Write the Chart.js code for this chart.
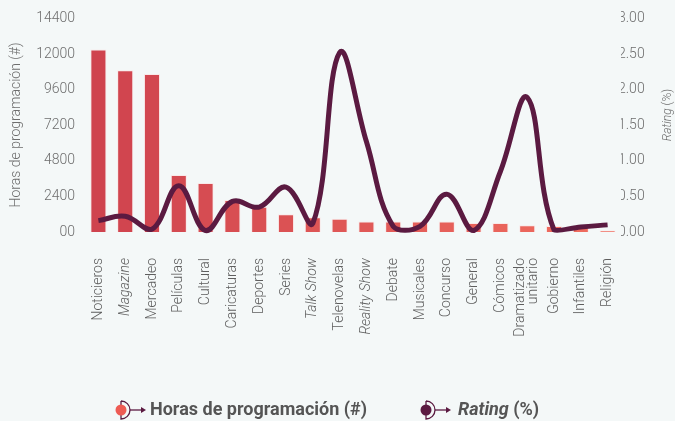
<!DOCTYPE html>
<html lang="es">
<head>
<meta charset="UTF-8">
<title>Horas de programación y rating por género</title>
<script src="https://cdn.jsdelivr.net/npm/chart.js"></script>
<style>
  body { margin: 0; background: #f4f8f8; }
  #wrap { width: 675px; height: 421px; }
</style>
</head>
<body>
<div id="wrap"><canvas id="generosChart" width="675" height="421"></canvas></div>
<script>
// Géneros de televisión
const generos = ['Noticieros', 'Magazine', 'Mercadeo', 'Películas', 'Cultural', 'Caricaturas',
  'Deportes', 'Series', 'Talk Show', 'Telenovelas', 'Reality Show', 'Debate', 'Musicales',
  'Concurso', 'General', 'Cómicos', ['Dramatizado', 'unitario'], 'Gobierno', 'Infantiles', 'Religión'];
// nombres en inglés van en cursiva
const enCursiva = ['Magazine', 'Talk Show', 'Reality Show'];

const horas = [12300, 10900, 10650, 3850, 3300, 2150, 1700, 1200, 1000, 900,
  700, 700, 700, 700, 600, 600, 450, 400, 320, 100];
const rating = [0.16, 0.22, 0.04, 0.65, 0.02, 0.43, 0.35, 0.63, 0.12, 2.52,
  1.27, 0.08, 0.08, 0.53, 0.02, 0.85, 1.89, 0.03, 0.07, 0.10];

const ticksHoras = [0, 2400, 4800, 7200, 9600, 12000, 14400];
const ticksRating = [0, 0.5, 1, 1.5, 2, 2.5, 3];

const colorLinea = '#5b1a41';
const grisTexto = '#6e6e6e';
const fuente = 'Roboto';
const altoLinea = 13;

// degradado de rojo oscuro a coral a lo largo de las barras
function mezcla(a, b, t) {
  const pa = a.match(/\w\w/g).map(h => parseInt(h, 16));
  const pb = b.match(/\w\w/g).map(h => parseInt(h, 16));
  return 'rgb(' + pa.map((v, i) => Math.round(v + (pb[i] - v) * t)).join(',') + ')';
}
const coloresBarras = horas.map((_, i) => mezcla('cf434e', 'f06d5f', i / (horas.length - 1)));

// icono de la leyenda: punto, media luna y flecha
function iconoLeyenda(ctx, x, y, relleno) {
  ctx.save();
  ctx.strokeStyle = colorLinea;
  ctx.lineWidth = 1.3;
  ctx.beginPath();
  ctx.moveTo(x, y - 9);
  ctx.arc(x, y, 9, -Math.PI / 2, Math.PI / 2);
  ctx.lineTo(x, y - 9);
  ctx.stroke();
  ctx.beginPath();
  ctx.moveTo(x + 9, y);
  ctx.lineTo(x + 22, y);
  ctx.stroke();
  ctx.fillStyle = colorLinea;
  ctx.beginPath();
  ctx.moveTo(x + 25, y);
  ctx.lineTo(x + 20, y - 3);
  ctx.lineTo(x + 20, y + 3);
  ctx.closePath();
  ctx.fill();
  ctx.fillStyle = relleno;
  ctx.beginPath();
  ctx.arc(x, y, 5.5, 0, Math.PI * 2);
  ctx.fill();
  ctx.restore();
}

// títulos de ejes y leyenda dibujados a mano (mezclan cursiva y normal)
const extras = {
  id: 'extras',
  beforeDraw(chart) {
    // centrar las etiquetas de dos líneas sobre su barra
    chart.scales.x.getLabelItems().forEach(it => {
      if (Array.isArray(it.label)) it.options.translation[0] -= altoLinea / 2;
    });
  },
  afterDraw(chart) {
    const ctx = chart.ctx;
    ctx.save();
    ctx.fillStyle = grisTexto;
    ctx.textBaseline = 'middle';

    ctx.save();
    ctx.translate(16, 125);
    ctx.rotate(-Math.PI / 2);
    ctx.textAlign = 'center';
    ctx.font = '300 14px ' + fuente;
    ctx.fillText('Horas de programación (#)', 0, 0);
    ctx.restore();

    ctx.save();
    ctx.translate(668, 115);
    ctx.rotate(-Math.PI / 2);
    ctx.textAlign = 'left';
    ctx.font = 'italic 300 12px ' + fuente;
    const w1 = ctx.measureText('Rating ').width;
    ctx.font = '300 12px ' + fuente;
    const w2 = ctx.measureText('(%)').width;
    let x0 = -(w1 + w2) / 2;
    ctx.font = 'italic 300 12px ' + fuente;
    ctx.fillText('Rating ', x0, 0);
    ctx.font = '300 12px ' + fuente;
    ctx.fillText('(%)', x0 + w1, 0);
    ctx.restore();

    // leyenda
    const yL = 410;
    ctx.fillStyle = '#555';
    ctx.textAlign = 'left';
    iconoLeyenda(ctx, 121, yL, '#ee5b54');
    ctx.font = 'bold 18px ' + fuente;
    ctx.fillText('Horas de programación (#)', 150, yL);
    iconoLeyenda(ctx, 426, yL, colorLinea);
    ctx.font = 'italic bold 18px ' + fuente;
    ctx.fillText('Rating', 458, yL);
    const wr = ctx.measureText('Rating ').width;
    ctx.font = 'bold 18px ' + fuente;
    ctx.fillText('(%)', 458 + wr, yL);
    ctx.restore();
  }
};

const ctx = document.getElementById('generosChart').getContext('2d');
new Chart(ctx, {
  data: {
    labels: generos,
    datasets: [{
      type: 'line',
      label: 'Rating (%)',
      data: rating,
      yAxisID: 'y1',
      borderColor: colorLinea,
      borderWidth: 5,
      tension: 0.4,
      pointRadius: 0,
      clip: false,
      order: 0
    }, {
      type: 'bar',
      label: 'Horas de programación (#)',
      data: horas,
      yAxisID: 'y',
      backgroundColor: coloresBarras,
      borderColor: 'rgba(255,215,215,0.45)',
      borderWidth: 1,
      barPercentage: 0.6,
      categoryPercentage: 1,
      order: 1
    }]
  },
  options: {
    responsive: false,
    animation: false,
    layout: { padding: { top: 15, bottom: 0, left: 0, right: 0 } },
    plugins: { legend: { display: false }, tooltip: { enabled: false } },
    scales: {
      x: {
        grid: { display: false, drawTicks: false },
        border: { display: false },
        afterFit: s => { s.height = 189; },
        ticks: {
          autoSkip: false,
          minRotation: 90,
          maxRotation: 90,
          padding: 26,
          color: '#5e5e5e',
          font: c => ({
            family: fuente,
            size: 14,
            weight: '300',
            lineHeight: altoLinea / 14,
            style: enCursiva.includes(generos[c.index]) ? 'italic' : 'normal'
          })
        }
      },
      y: {
        position: 'left',
        min: 0,
        max: 14400,
        grid: { display: false, drawTicks: false },
        border: { display: false },
        afterFit: s => { s.width = 85; },
        afterBuildTicks: s => { s.ticks = ticksHoras.map(v => ({ value: v })); },
        ticks: {
          padding: 10,
          color: grisTexto,
          font: { family: fuente, size: 14, weight: '300' },
          callback: v => (v === 0 ? '00' : String(v))
        }
      },
      y1: {
        position: 'right',
        min: 0,
        max: 3,
        grid: { display: false, drawTicks: false },
        border: { display: false },
        afterFit: s => { s.width = 54; },
        afterBuildTicks: s => { s.ticks = ticksRating.map(v => ({ value: v })); },
        ticks: {
          padding: -3,
          color: grisTexto,
          font: { family: fuente, size: 14, weight: '300' },
          callback: v => v.toFixed(2)
        }
      }
    }
  },
  plugins: [extras]
});
</script>
</body>
</html>
